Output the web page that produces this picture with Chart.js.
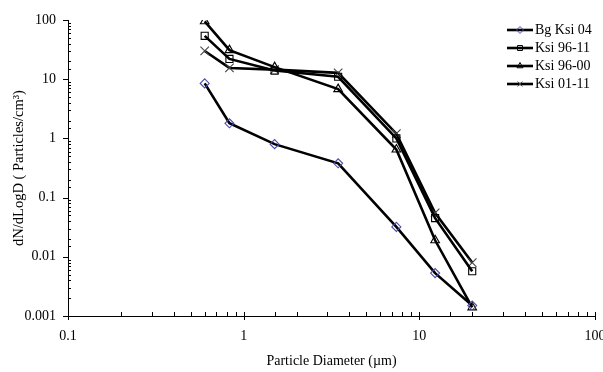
<!DOCTYPE html>
<html>
<head>
  <meta charset="UTF-8">
  <title>dN/dLogD vs Particle Diameter</title>
  <script src="https://cdn.jsdelivr.net/npm/chart.js"></script>
  <style>
    html, body {
      margin: 0;
      padding: 0;
      background: #fff;
    }
    #wrap {
      width: 603px;
      height: 372px;
    }
  </style>
</head>
<body>
  <div id="wrap"><canvas id="psd"></canvas></div>

  <script>
    // particle diameters (um), shared by all series
    const diameters = [0.6, 0.83, 1.5, 3.45, 7.4, 12.3, 20];

    const seriesNames = ['Bg Ksi 04', 'Ksi 96-11', 'Ksi 96-00', 'Ksi 01-11'];
    const bgKsi04 = [8.5, 1.8, 0.8, 0.38, 0.032, 0.0053, 0.0015];
    const ksi9611 = [54, 22, 14, 11, 1.0, 0.045, 0.0057];
    const ksi9600 = [95, 31, 16, 6.8, 0.65, 0.019, 0.0014];
    const ksi0111 = [30, 15.5, 14.5, 12.8, 1.2, 0.055, 0.008];

    const xTickLabels = ['0.1', '1', '10', '100'];
    const yTickLabels = ['0.001', '0.01', '0.1', '1', '10', '100'];

    const serif = 'Liberation Serif, Times New Roman, serif';

    function pts(ys) {
      return diameters.map((d, i) => ({ x: d, y: ys[i] }));
    }

    function isDecade(v) {
      const l = Math.log10(v);
      return Math.abs(l - Math.round(l)) < 1e-9;
    }

    const styles = [
      { pointStyle: 'rectRot', pointBorderColor: '#4b4ba8', radius: 4.5 },
      { pointStyle: 'rect', pointBorderColor: '#000', radius: 5 },
      { pointStyle: 'triangle', pointBorderColor: '#000', radius: 5 },
      { pointStyle: 'crossRot', pointBorderColor: '#444', radius: 6 }
    ];
    const allValues = [bgKsi04, ksi9611, ksi9600, ksi0111];

    const datasets = seriesNames.map((name, i) => ({
      label: name,
      data: pts(allValues[i]),
      borderColor: '#000',
      borderWidth: 2.6,
      pointStyle: styles[i].pointStyle,
      pointRadius: styles[i].radius,
      pointBorderColor: styles[i].pointBorderColor,
      pointBackgroundColor: 'rgba(0,0,0,0)',
      pointBorderWidth: 1.1,
      tension: 0
    }));

    // tick marks: majors outside (y) / crossing (x), minors inside
    const tickMarks = {
      id: 'tickMarks',
      afterDraw(chart) {
        const ctx = chart.ctx;
        const xs = chart.scales.x, ys = chart.scales.y;
        const ax = chart.chartArea;
        ctx.save();
        ctx.strokeStyle = '#000';
        ctx.lineWidth = 1;
        ys.ticks.forEach(t => {
          const p = Math.round(ys.getPixelForValue(t.value)) + 0.5;
          ctx.beginPath();
          if (isDecade(t.value)) {
            ctx.moveTo(ax.left - 5, p);
            ctx.lineTo(ax.left, p);
          } else {
            ctx.moveTo(ax.left, p);
            ctx.lineTo(ax.left + 3, p);
          }
          ctx.stroke();
        });
        xs.ticks.forEach(t => {
          const p = Math.round(xs.getPixelForValue(t.value)) + 0.5;
          ctx.beginPath();
          if (isDecade(t.value)) {
            ctx.moveTo(p, ax.bottom - 4);
            ctx.lineTo(p, ax.bottom + 4);
          } else {
            ctx.moveTo(p, ax.bottom - 4);
            ctx.lineTo(p, ax.bottom);
          }
          ctx.stroke();
        });
        ctx.restore();
      }
    };

    // legend drawn inside the plot, upper right
    const boxLegend = {
      id: 'boxLegend',
      afterDraw(chart) {
        const ctx = chart.ctx;
        const x0 = 507, x1 = 533, top = 30, step = 18;
        ctx.save();
        ctx.font = '14px ' + serif;
        ctx.textBaseline = 'middle';
        chart.data.datasets.forEach((ds, i) => {
          const y = top + i * step;
          ctx.strokeStyle = '#000';
          ctx.lineWidth = 2.6;
          ctx.beginPath();
          ctx.moveTo(x0, y);
          ctx.lineTo(x1, y);
          ctx.stroke();
          ctx.lineWidth = 1;
          ctx.strokeStyle = ds.pointBorderColor;
          ctx.fillStyle = 'rgba(0,0,0,0)';
          Chart.helpers.drawPoint(ctx, {
            pointStyle: ds.pointStyle,
            radius: 3.5,
            rotation: 0,
            borderWidth: 1
          }, (x0 + x1) / 2, y);
          ctx.fillStyle = '#000';
          ctx.fillText(ds.label, x1 + 2, y);
        });
        ctx.restore();
      }
    };

    new Chart(document.getElementById('psd'), {
      type: 'line',
      data: { datasets: datasets },
      plugins: [tickMarks, boxLegend],
      options: {
        responsive: true,
        maintainAspectRatio: false,
        animation: false,
        layout: { padding: { top: 20, right: 8, left: 0, bottom: 0 } },
        plugins: {
          legend: { display: false },
          tooltip: { enabled: false }
        },
        scales: {
          x: {
            type: 'logarithmic',
            min: 0.1,
            max: 100,
            grid: { display: false, drawTicks: false },
            border: { display: true, color: '#000', width: 1 },
            ticks: {
              autoSkip: false,
              maxRotation: 0,
              padding: 12,
              color: '#000',
              font: { family: serif, size: 14 },
              callback: (v) => isDecade(v) ? xTickLabels[Math.round(Math.log10(v)) + 1] : ''
            },
            title: {
              display: true,
              text: 'Particle Diameter (µm)',
              color: '#000',
              font: { family: serif, size: 14 },
              padding: { top: 0, bottom: 2 }
            },
            afterFit(s) {
              s.height = 56;
              s.paddingLeft = 0;
              s.paddingRight = 0;
            }
          },
          y: {
            type: 'logarithmic',
            min: 0.001,
            max: 100,
            grid: { display: false, drawTicks: false },
            border: { display: true, color: '#000', width: 1 },
            ticks: {
              autoSkip: false,
              padding: 12,
              color: '#000',
              font: { family: serif, size: 14 },
              callback: (v) => isDecade(v) ? yTickLabels[Math.round(Math.log10(v)) + 3] : ''
            },
            title: {
              display: true,
              text: 'dN/dLogD ( Particles/cm³)',
              color: '#000',
              font: { family: serif, size: 14.5 },
              padding: { top: 10, bottom: 0 }
            },
            afterFit(s) {
              s.width = 68;
              s.paddingTop = 0;
              s.paddingBottom = 0;
            }
          }
        }
      }
    });
  </script>
</body>
</html>
